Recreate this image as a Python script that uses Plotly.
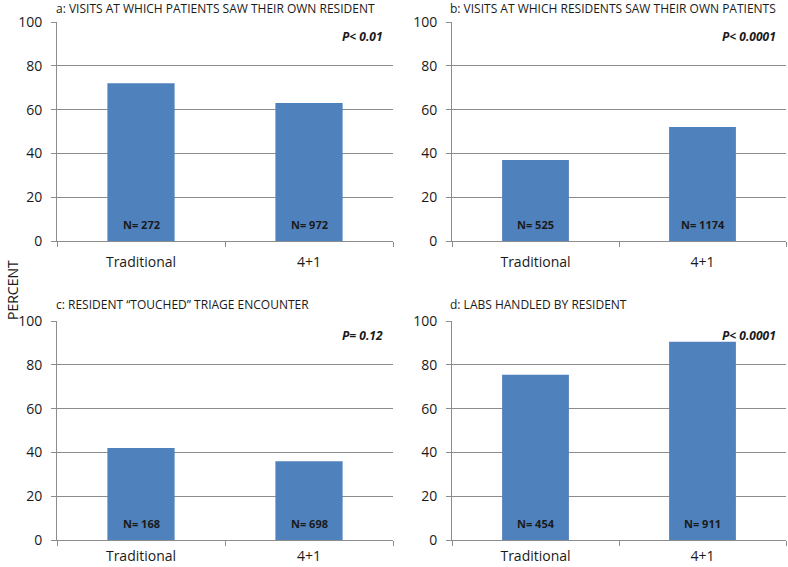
import plotly.graph_objects as go

categories = ["Traditional", "4+1"]
panel_titles = [
    "a: VISITS AT WHICH PATIENTS SAW THEIR OWN RESIDENT",
    "b: VISITS AT WHICH RESIDENTS SAW THEIR OWN PATIENTS",
    "c: RESIDENT \u201cTOUCHED\u201d TRIAGE ENCOUNTER",
    "d: LABS HANDLED BY RESIDENT",
]
percent_a = [72, 63]
percent_b = [37, 52]
percent_c = [42, 36]
percent_d = [75.5, 90.5]
n_a = [272, 972]
n_b = [525, 1174]
n_c = [168, 698]
n_d = [454, 911]
p_values = ["P< 0.01", "P< 0.0001", "P= 0.12", "P< 0.0001"]
y_ticks = [0, 20, 40, 60, 80, 100]

percents = [percent_a, percent_b, percent_c, percent_d]
ns = [n_a, n_b, n_c, n_d]

FONT = "Open Sans, Lato, Liberation Sans, sans-serif"
BAR = "#4F81BD"
GRID = "#8c8c8c"
TXT = "#1a1a1a"

W, H = 788, 567
xdoms = [(57 / W, 393 / W), (452 / W, 786 / W)]
ydoms = [(1 - 241 / H, 1 - 22 / H), (1 - 540 / H, 1 - 321 / H)]
x_standoff = [8, 3]
title_pos = [(54 / W, 1 - 8 / H), (448 / W, 1 - 8 / H), (54 / W, 1 - 304 / H), (448 / W, 1 - 304 / H)]

fig = go.Figure()
layout = {}
annotations = []
for i in range(4):
    row, col = divmod(i, 2)
    sfx = "" if i == 0 else str(i + 1)
    xa, ya = "x" + sfx, "y" + sfx
    fig.add_trace(go.Bar(
        x=categories, y=percents[i], xaxis=xa, yaxis=ya,
        width=0.4, marker=dict(color=BAR, line=dict(width=0)),
        showlegend=False, hoverinfo="skip",
    ))
    for cat, n in zip(categories, ns[i]):
        annotations.append(dict(
            text=f"<b>N= {n}</b>", xref=xa, yref=ya, x=cat, y=0,
            xanchor="center", yanchor="bottom", yshift=7, showarrow=False,
            font=dict(family=FONT, size=11, color=TXT),
        ))
    layout["xaxis" + sfx] = dict(
        domain=xdoms[col], anchor=ya, type="category", automargin=False,
        showline=True, linecolor=GRID, linewidth=1,
        ticks="outside", tickson="boundaries", ticklen=5, tickcolor=GRID,
        ticklabelstandoff=x_standoff[row],
        tickfont=dict(family=FONT, size=14, color=TXT), showgrid=False,
        range=[-0.5, 1.5], fixedrange=True,
    )
    layout["yaxis" + sfx] = dict(
        domain=ydoms[row], anchor=xa, range=[0, 100], automargin=False,
        tickvals=y_ticks, showline=True, linecolor=GRID, linewidth=1,
        ticks="outside", ticklen=5, tickcolor=GRID, ticklabelstandoff=6,
        showgrid=True, gridcolor=GRID, gridwidth=1, zeroline=False,
        tickfont=dict(family=FONT, size=14, color=TXT), fixedrange=True,
    )
    annotations.append(dict(
        text=panel_titles[i], xref="paper", yref="paper",
        x=title_pos[i][0], y=title_pos[i][1], xanchor="left", yanchor="middle",
        showarrow=False, font=dict(family=FONT, size=12, color=TXT),
    ))
    annotations.append(dict(
        text=f"<b><i>{p_values[i]}</i></b>", xref=xa + " domain", yref=ya + " domain",
        x=0.975, y=0.932, xanchor="right", yanchor="middle",
        showarrow=False, font=dict(family=FONT, size=12, color=TXT),
    ))

annotations.append(dict(
    text="PERCENT", xref="paper", yref="paper", x=12 / W, y=1 - 290 / H,
    xanchor="center", yanchor="middle", textangle=-90, showarrow=False,
    font=dict(family=FONT, size=14, color=TXT),
))

fig.update_layout(
    width=W, height=H, margin=dict(l=0, r=0, t=0, b=0, autoexpand=False),
    plot_bgcolor="white", paper_bgcolor="white",
    annotations=annotations, bargap=0.6, **layout,
)

fig.write_html(
    "out.html",
    config={"displayModeBar": False},
    post_script="document.body.style.margin='0px';document.body.style.overflow='hidden';",
)
